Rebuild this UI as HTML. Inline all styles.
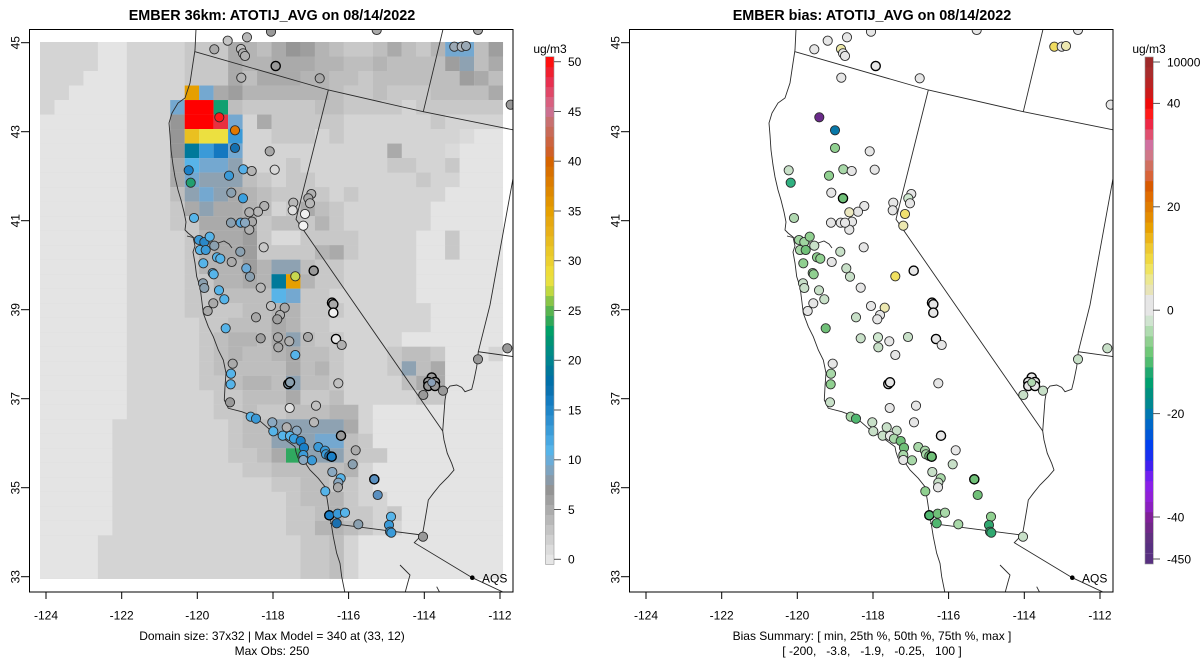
<!DOCTYPE html>
<html><head><meta charset="utf-8">
<style>
html,body{margin:0;padding:0;background:#fff;}
svg{display:block;}
text{font-family:"Liberation Sans",Arial,sans-serif;fill:#000;}
.a{fill:#e4e4e4}.b{fill:#dadada}.c{fill:#d4d4d4}.d{fill:#c8c8c8}.e{fill:#bebebe}.f{fill:#b4b4b4}.g{fill:#aaaaaa}.h{fill:#9e9e9e}.i{fill:#969696}
.p{fill:#8ea2b2}.q{fill:#74a8d0}.r{fill:#58b4e8}.s{fill:#3a9ad8}.t{fill:#1478c0}.u{fill:#00799a}.v{fill:#10a070}.w{fill:#30a860}.y{fill:#ece040}.Y{fill:#eac020}.o{fill:#e69f00}.R{fill:#ff0000}.P{fill:#e83040}
.st circle{stroke:#2a2a2a;stroke-width:0.9}
.st circle.k{stroke:#000;stroke-width:1.35}
</style></head>
<body>
<svg width="1200" height="672" viewBox="0 0 1200 672" xmlns="http://www.w3.org/2000/svg" xmlns:xlink="http://www.w3.org/1999/xlink">
<defs>
<clipPath id="cl"><rect x="29.5" y="29.5" width="483.5" height="562.5"/></clipPath>
<g id="map" fill="none" stroke="#2a2a2a" stroke-width="0.9">
<polyline points="196,29 195,50 193,63 190,83 185,98 178,103 172,113 169,123 170,135 171,150 173,165 175,177 178,190 181,200 184,212 186,222 185,230 188,233 193,237 195,246 193,252 195,263 196.7,276.7 200,286.7 201.7,300 203.3,313.3 208.3,326.7 213.3,336.7 218.3,350 223.3,360 226,373 225,386.7 224.3,400 228.3,408.3 241.7,411.7 255,416.7 268.3,428.3 283.3,438.3 295,446.7 296,452 298,458 303.3,460 310,470 318.3,478.3 325,486.7 327.3,500 329.3,513.3 331.7,526.7 333.3,536.7 336.7,553.3 340,563.3 341.7,576.7 345,593"/>
<polyline points="187,236 195,238 202,240 210,243 218,243 224,241 229,244 232,248"/>
<polyline points="195,51.7 328.3,90 423.3,111.7 514,130"/>
<polyline points="328.3,90 296,219.3 442.7,431"/>
<polyline points="423.3,111.7 443.3,28"/>
<polyline points="514,173 490,305 478.3,351.7 514,356.7"/>
<polyline points="478.3,351.7 476.7,366.7 474,380 471.7,389.3 465,391.7 461.7,387.3 456.7,385 450,386 446.7,390 445,400 444,413.3 442.7,431 444,440 447.3,453.3 451.7,463.3 454,470 448.3,476.7 440,485 433.3,493.3 428.3,500 426.7,510 425,520 423.3,530 421.7,535"/>
<polyline points="330,523.3 421.7,535"/>
<polyline points="421.7,535 414.3,542.7 472.3,577.7 505,593"/>
<polyline points="400,565 405,570 410,575 408,582 405,593"/>
<polyline points="436.7,586.7 440,593"/>
</g>
<g id="aqs"><circle cx="472.3" cy="577.7" r="2.3" fill="#000"/><text x="482" y="582.5" font-size="12">AQS</text></g>
</defs>

<!-- ===== LEFT PANEL ===== -->
<text x="272" y="20" font-size="14.4" font-weight="bold" text-anchor="middle">EMBER 36km: ATOTIJ_AVG on 08/14/2022</text>
<rect x="40" y="42" width="463" height="537" class="c"/>
<g transform="translate(40,42) scale(14.47,14.51)">
<rect x="4" y="0" width="2" height="1" class="a"/><rect x="10" y="0" width="3" height="1" class="d"/><rect x="13" y="0" width="1" height="1" class="g"/><rect x="14" y="0" width="1" height="1" class="f"/><rect x="15" y="0" width="1" height="1" class="e"/><rect x="16" y="0" width="1" height="1" class="g"/><rect x="17" y="0" width="1" height="1" class="i"/><rect x="18" y="0" width="1" height="1" class="h"/><rect x="19" y="0" width="1" height="1" class="f"/><rect x="20" y="0" width="1" height="1" class="e"/><rect x="21" y="0" width="2" height="1" class="d"/><rect x="23" y="0" width="1" height="1" class="e"/><rect x="24" y="0" width="1" height="1" class="g"/><rect x="25" y="0" width="1" height="1" class="e"/><rect x="26" y="0" width="1" height="1" class="d"/><rect x="27" y="0" width="1" height="1" class="f"/><rect x="28" y="0" width="2" height="1" class="q"/><rect x="30" y="0" width="1" height="1" class="e"/><rect x="31" y="0" width="1" height="1" class="h"/>
<rect x="4" y="1" width="2" height="1" class="a"/><rect x="10" y="1" width="3" height="1" class="d"/><rect x="13" y="1" width="1" height="1" class="g"/><rect x="14" y="1" width="2" height="1" class="f"/><rect x="16" y="1" width="3" height="1" class="g"/><rect x="19" y="1" width="2" height="1" class="f"/><rect x="21" y="1" width="2" height="1" class="e"/><rect x="23" y="1" width="1" height="1" class="f"/><rect x="24" y="1" width="4" height="1" class="e"/><rect x="28" y="1" width="1" height="1" class="h"/><rect x="29" y="1" width="1" height="1" class="p"/><rect x="30" y="1" width="1" height="1" class="e"/><rect x="31" y="1" width="1" height="1" class="g"/>
<rect x="3" y="2" width="3" height="1" class="a"/><rect x="10" y="2" width="3" height="1" class="d"/><rect x="13" y="2" width="1" height="1" class="g"/><rect x="14" y="2" width="1" height="1" class="e"/><rect x="15" y="2" width="3" height="1" class="g"/><rect x="18" y="2" width="2" height="1" class="f"/><rect x="20" y="2" width="2" height="1" class="e"/><rect x="22" y="2" width="1" height="1" class="d"/><rect x="23" y="2" width="6" height="1" class="e"/><rect x="29" y="2" width="1" height="1" class="h"/><rect x="30" y="2" width="1" height="1" class="g"/><rect x="31" y="2" width="1" height="1" class="e"/>
<rect x="2" y="3" width="4" height="1" class="a"/><rect x="10" y="3" width="1" height="1" class="o"/><rect x="11" y="3" width="1" height="1" class="q"/><rect x="12" y="3" width="1" height="1" class="g"/><rect x="13" y="3" width="1" height="1" class="h"/><rect x="14" y="3" width="6" height="1" class="f"/><rect x="20" y="3" width="1" height="1" class="e"/><rect x="21" y="3" width="2" height="1" class="d"/><rect x="23" y="3" width="1" height="1" class="e"/><rect x="24" y="3" width="3" height="1" class="d"/><rect x="27" y="3" width="4" height="1" class="e"/><rect x="31" y="3" width="1" height="1" class="g"/>
<rect x="1" y="4" width="5" height="1" class="a"/><rect x="9" y="4" width="1" height="1" class="q"/><rect x="10" y="4" width="2" height="1" class="R"/><rect x="12" y="4" width="1" height="1" class="v"/><rect x="13" y="4" width="1" height="1" class="e"/><rect x="14" y="4" width="5" height="1" class="d"/><rect x="19" y="4" width="2" height="1" class="e"/><rect x="21" y="4" width="4" height="1" class="d"/><rect x="26" y="4" width="6" height="1" class="d"/>
<rect x="0" y="5" width="6" height="1" class="a"/><rect x="9" y="5" width="1" height="1" class="i"/><rect x="10" y="5" width="2" height="1" class="R"/><rect x="12" y="5" width="1" height="1" class="P"/><rect x="13" y="5" width="1" height="1" class="q"/><rect x="15" y="5" width="1" height="1" class="g"/><rect x="16" y="5" width="5" height="1" class="d"/><rect x="27" y="5" width="1" height="1" class="d"/>
<rect x="0" y="6" width="6" height="1" class="a"/><rect x="9" y="6" width="1" height="1" class="i"/><rect x="10" y="6" width="1" height="1" class="Y"/><rect x="11" y="6" width="2" height="1" class="y"/><rect x="13" y="6" width="1" height="1" class="s"/><rect x="16" y="6" width="3" height="1" class="d"/><rect x="20" y="6" width="1" height="1" class="d"/><rect x="29" y="6" width="1" height="1" class="b"/><rect x="30" y="6" width="2" height="1" class="a"/>
<rect x="0" y="7" width="6" height="1" class="a"/><rect x="9" y="7" width="1" height="1" class="i"/><rect x="10" y="7" width="1" height="1" class="u"/><rect x="11" y="7" width="1" height="1" class="s"/><rect x="12" y="7" width="1" height="1" class="t"/><rect x="13" y="7" width="1" height="1" class="q"/><rect x="24" y="7" width="1" height="1" class="g"/><rect x="28" y="7" width="1" height="1" class="b"/><rect x="29" y="7" width="3" height="1" class="a"/>
<rect x="0" y="8" width="6" height="1" class="a"/><rect x="9" y="8" width="1" height="1" class="g"/><rect x="10" y="8" width="1" height="1" class="r"/><rect x="11" y="8" width="2" height="1" class="q"/><rect x="13" y="8" width="1" height="1" class="p"/><rect x="17" y="8" width="1" height="1" class="d"/><rect x="24" y="8" width="2" height="1" class="d"/><rect x="28" y="8" width="1" height="1" class="d"/><rect x="29" y="8" width="3" height="1" class="a"/>
<rect x="0" y="9" width="6" height="1" class="a"/><rect x="9" y="9" width="1" height="1" class="g"/><rect x="10" y="9" width="1" height="1" class="q"/><rect x="11" y="9" width="3" height="1" class="p"/><rect x="14" y="9" width="1" height="1" class="e"/><rect x="15" y="9" width="1" height="1" class="d"/><rect x="17" y="9" width="2" height="1" class="d"/><rect x="26" y="9" width="1" height="1" class="d"/><rect x="29" y="9" width="3" height="1" class="a"/>
<rect x="0" y="10" width="6" height="1" class="a"/><rect x="9" y="10" width="1" height="1" class="e"/><rect x="10" y="10" width="1" height="1" class="p"/><rect x="11" y="10" width="1" height="1" class="q"/><rect x="12" y="10" width="1" height="1" class="p"/><rect x="13" y="10" width="1" height="1" class="g"/><rect x="14" y="10" width="1" height="1" class="f"/><rect x="15" y="10" width="1" height="1" class="e"/><rect x="16" y="10" width="4" height="1" class="d"/><rect x="21" y="10" width="1" height="1" class="d"/><rect x="28" y="10" width="4" height="1" class="a"/>
<rect x="0" y="11" width="6" height="1" class="a"/><rect x="9" y="11" width="1" height="1" class="d"/><rect x="10" y="11" width="1" height="1" class="g"/><rect x="11" y="11" width="1" height="1" class="p"/><rect x="12" y="11" width="2" height="1" class="g"/><rect x="14" y="11" width="1" height="1" class="f"/><rect x="15" y="11" width="1" height="1" class="e"/><rect x="17" y="11" width="1" height="1" class="d"/><rect x="18" y="11" width="1" height="1" class="g"/><rect x="19" y="11" width="1" height="1" class="e"/><rect x="20" y="11" width="1" height="1" class="d"/><rect x="27" y="11" width="5" height="1" class="a"/>
<rect x="0" y="12" width="6" height="1" class="a"/><rect x="9" y="12" width="2" height="1" class="d"/><rect x="11" y="12" width="4" height="1" class="g"/><rect x="15" y="12" width="1" height="1" class="d"/><rect x="16" y="12" width="2" height="1" class="e"/><rect x="18" y="12" width="1" height="1" class="d"/><rect x="19" y="12" width="1" height="1" class="f"/><rect x="20" y="12" width="1" height="1" class="d"/><rect x="27" y="12" width="5" height="1" class="a"/>
<rect x="0" y="13" width="6" height="1" class="a"/><rect x="10" y="13" width="1" height="1" class="d"/><rect x="11" y="13" width="1" height="1" class="f"/><rect x="12" y="13" width="2" height="1" class="g"/><rect x="14" y="13" width="1" height="1" class="h"/><rect x="15" y="13" width="1" height="1" class="d"/><rect x="16" y="13" width="2" height="1" class="b"/><rect x="18" y="13" width="4" height="1" class="d"/><rect x="26" y="13" width="2" height="1" class="a"/><rect x="28" y="13" width="1" height="1" class="d"/><rect x="29" y="13" width="3" height="1" class="a"/>
<rect x="0" y="14" width="6" height="1" class="a"/><rect x="10" y="14" width="1" height="1" class="d"/><rect x="11" y="14" width="1" height="1" class="f"/><rect x="12" y="14" width="2" height="1" class="g"/><rect x="14" y="14" width="1" height="1" class="h"/><rect x="15" y="14" width="4" height="1" class="d"/><rect x="19" y="14" width="1" height="1" class="f"/><rect x="20" y="14" width="1" height="1" class="g"/><rect x="21" y="14" width="1" height="1" class="d"/><rect x="26" y="14" width="2" height="1" class="a"/><rect x="28" y="14" width="1" height="1" class="d"/><rect x="29" y="14" width="3" height="1" class="a"/>
<rect x="0" y="15" width="6" height="1" class="a"/><rect x="10" y="15" width="1" height="1" class="d"/><rect x="11" y="15" width="3" height="1" class="f"/><rect x="14" y="15" width="1" height="1" class="h"/><rect x="15" y="15" width="1" height="1" class="f"/><rect x="16" y="15" width="2" height="1" class="p"/><rect x="18" y="15" width="1" height="1" class="e"/><rect x="19" y="15" width="2" height="1" class="d"/><rect x="26" y="15" width="6" height="1" class="a"/>
<rect x="0" y="16" width="6" height="1" class="a"/><rect x="10" y="16" width="2" height="1" class="d"/><rect x="12" y="16" width="2" height="1" class="f"/><rect x="14" y="16" width="1" height="1" class="g"/><rect x="15" y="16" width="1" height="1" class="f"/><rect x="16" y="16" width="1" height="1" class="u"/><rect x="17" y="16" width="1" height="1" class="o"/><rect x="18" y="16" width="1" height="1" class="f"/><rect x="19" y="16" width="2" height="1" class="d"/><rect x="26" y="16" width="6" height="1" class="a"/>
<rect x="0" y="17" width="6" height="1" class="a"/><rect x="10" y="17" width="2" height="1" class="d"/><rect x="12" y="17" width="4" height="1" class="e"/><rect x="16" y="17" width="1" height="1" class="r"/><rect x="17" y="17" width="1" height="1" class="q"/><rect x="18" y="17" width="2" height="1" class="d"/><rect x="26" y="17" width="6" height="1" class="a"/>
<rect x="0" y="18" width="6" height="1" class="a"/><rect x="10" y="18" width="4" height="1" class="d"/><rect x="14" y="18" width="2" height="1" class="e"/><rect x="16" y="18" width="2" height="1" class="f"/><rect x="18" y="18" width="3" height="1" class="d"/><rect x="27" y="18" width="5" height="1" class="a"/>
<rect x="0" y="19" width="6" height="1" class="a"/><rect x="11" y="19" width="2" height="1" class="d"/><rect x="13" y="19" width="3" height="1" class="e"/><rect x="16" y="19" width="1" height="1" class="g"/><rect x="17" y="19" width="1" height="1" class="f"/><rect x="18" y="19" width="2" height="1" class="d"/><rect x="27" y="19" width="5" height="1" class="a"/>
<rect x="0" y="20" width="6" height="1" class="a"/><rect x="11" y="20" width="1" height="1" class="d"/><rect x="12" y="20" width="1" height="1" class="e"/><rect x="13" y="20" width="2" height="1" class="f"/><rect x="15" y="20" width="1" height="1" class="e"/><rect x="16" y="20" width="1" height="1" class="g"/><rect x="17" y="20" width="1" height="1" class="p"/><rect x="18" y="20" width="1" height="1" class="e"/><rect x="19" y="20" width="2" height="1" class="d"/><rect x="25" y="20" width="7" height="1" class="a"/>
<rect x="0" y="21" width="6" height="1" class="a"/><rect x="11" y="21" width="1" height="1" class="d"/><rect x="12" y="21" width="1" height="1" class="e"/><rect x="13" y="21" width="1" height="1" class="f"/><rect x="14" y="21" width="2" height="1" class="e"/><rect x="16" y="21" width="1" height="1" class="f"/><rect x="17" y="21" width="1" height="1" class="g"/><rect x="18" y="21" width="2" height="1" class="e"/><rect x="20" y="21" width="1" height="1" class="d"/><rect x="24" y="21" width="1" height="1" class="d"/><rect x="25" y="21" width="2" height="1" class="e"/><rect x="27" y="21" width="1" height="1" class="d"/><rect x="28" y="21" width="3" height="1" class="a"/>
<rect x="0" y="22" width="6" height="1" class="a"/><rect x="11" y="22" width="1" height="1" class="d"/><rect x="12" y="22" width="5" height="1" class="e"/><rect x="17" y="22" width="1" height="1" class="g"/><rect x="18" y="22" width="1" height="1" class="e"/><rect x="19" y="22" width="1" height="1" class="f"/><rect x="20" y="22" width="1" height="1" class="d"/><rect x="24" y="22" width="1" height="1" class="d"/><rect x="25" y="22" width="1" height="1" class="p"/><rect x="26" y="22" width="1" height="1" class="e"/><rect x="27" y="22" width="1" height="1" class="g"/><rect x="28" y="22" width="4" height="1" class="a"/>
<rect x="0" y="23" width="6" height="1" class="a"/><rect x="11" y="23" width="2" height="1" class="d"/><rect x="13" y="23" width="1" height="1" class="e"/><rect x="14" y="23" width="2" height="1" class="f"/><rect x="16" y="23" width="1" height="1" class="e"/><rect x="17" y="23" width="1" height="1" class="p"/><rect x="18" y="23" width="2" height="1" class="e"/><rect x="20" y="23" width="1" height="1" class="d"/><rect x="25" y="23" width="1" height="1" class="e"/><rect x="26" y="23" width="2" height="1" class="g"/><rect x="28" y="23" width="4" height="1" class="a"/>
<rect x="0" y="24" width="6" height="1" class="a"/><rect x="12" y="24" width="2" height="1" class="d"/><rect x="14" y="24" width="3" height="1" class="e"/><rect x="17" y="24" width="1" height="1" class="g"/><rect x="18" y="24" width="2" height="1" class="d"/><rect x="20" y="24" width="1" height="1" class="e"/><rect x="26" y="24" width="2" height="1" class="d"/><rect x="28" y="24" width="4" height="1" class="a"/>
<rect x="0" y="25" width="6" height="1" class="a"/><rect x="12" y="25" width="2" height="1" class="d"/><rect x="14" y="25" width="1" height="1" class="e"/><rect x="15" y="25" width="2" height="1" class="d"/><rect x="17" y="25" width="3" height="1" class="e"/><rect x="20" y="25" width="2" height="1" class="f"/><rect x="23" y="25" width="9" height="1" class="a"/>
<rect x="0" y="26" width="5" height="1" class="a"/><rect x="13" y="26" width="1" height="1" class="d"/><rect x="14" y="26" width="2" height="1" class="e"/><rect x="16" y="26" width="5" height="1" class="p"/><rect x="21" y="26" width="1" height="1" class="g"/><rect x="23" y="26" width="9" height="1" class="a"/>
<rect x="0" y="27" width="5" height="1" class="a"/><rect x="13" y="27" width="1" height="1" class="d"/><rect x="14" y="27" width="2" height="1" class="e"/><rect x="16" y="27" width="3" height="1" class="p"/><rect x="19" y="27" width="2" height="1" class="q"/><rect x="21" y="27" width="1" height="1" class="e"/><rect x="22" y="27" width="1" height="1" class="d"/><rect x="23" y="27" width="9" height="1" class="a"/>
<rect x="0" y="28" width="5" height="1" class="a"/><rect x="13" y="28" width="2" height="1" class="d"/><rect x="15" y="28" width="1" height="1" class="e"/><rect x="16" y="28" width="1" height="1" class="g"/><rect x="17" y="28" width="1" height="1" class="w"/><rect x="18" y="28" width="3" height="1" class="p"/><rect x="21" y="28" width="1" height="1" class="e"/><rect x="22" y="28" width="2" height="1" class="d"/><rect x="24" y="28" width="8" height="1" class="a"/>
<rect x="0" y="29" width="5" height="1" class="a"/><rect x="14" y="29" width="2" height="1" class="d"/><rect x="16" y="29" width="5" height="1" class="e"/><rect x="21" y="29" width="1" height="1" class="f"/><rect x="23" y="29" width="9" height="1" class="a"/>
<rect x="0" y="30" width="5" height="1" class="a"/><rect x="16" y="30" width="2" height="1" class="d"/><rect x="18" y="30" width="2" height="1" class="e"/><rect x="20" y="30" width="2" height="1" class="d"/><rect x="23" y="30" width="9" height="1" class="a"/>
<rect x="0" y="31" width="5" height="1" class="a"/><rect x="17" y="31" width="1" height="1" class="d"/><rect x="18" y="31" width="2" height="1" class="e"/><rect x="20" y="31" width="1" height="1" class="f"/><rect x="21" y="31" width="1" height="1" class="d"/><rect x="24" y="31" width="8" height="1" class="a"/>
<rect x="0" y="32" width="5" height="1" class="a"/><rect x="17" y="32" width="2" height="1" class="d"/><rect x="19" y="32" width="1" height="1" class="e"/><rect x="20" y="32" width="1" height="1" class="f"/><rect x="21" y="32" width="2" height="1" class="d"/><rect x="24" y="32" width="1" height="1" class="d"/><rect x="25" y="32" width="7" height="1" class="a"/>
<rect x="0" y="33" width="5" height="1" class="a"/><rect x="17" y="33" width="2" height="1" class="d"/><rect x="19" y="33" width="2" height="1" class="f"/><rect x="21" y="33" width="1" height="1" class="e"/><rect x="22" y="33" width="1" height="1" class="d"/><rect x="25" y="33" width="7" height="1" class="a"/>
<rect x="0" y="34" width="4" height="3" class="a"/><rect x="18" y="34" width="2" height="3" class="d"/><rect x="20" y="34" width="1" height="3" class="e"/><rect x="22" y="34" width="10" height="3" class="a"/>
</g>

<use xlink:href="#map" clip-path="url(#cl)"/>

<g class="st" clip-path="url(#cl)">
<circle cx="227.7" cy="40.7" r="4.6" fill="#c4c4c4"/>
<circle cx="247" cy="37.3" r="4.6" fill="#b8b8b8"/>
<circle cx="271" cy="31.7" r="4.6" fill="#999"/>
<circle cx="376.7" cy="30" r="4.6" fill="#aaa"/>
<circle cx="478" cy="30" r="4.6" fill="#aaa"/>
<circle cx="214.3" cy="49.3" r="4.6" fill="#aaa"/>
<circle cx="241" cy="49" r="4.6" fill="#c0c0c0"/>
<circle cx="243" cy="53.3" r="4.6" fill="#b0b0b0"/>
<circle cx="245" cy="56" r="4.6" fill="#b0b0b0"/>
<circle class="k" cx="275.7" cy="66" r="4.6" fill="#9a9a9a"/>
<circle cx="241.3" cy="77.7" r="4.6" fill="#b4b4b4"/>
<circle cx="319.7" cy="78.3" r="4.6" fill="#a8a8a8"/>
<circle cx="454.3" cy="46.7" r="4.6" fill="#9aa8b4"/>
<circle cx="461.7" cy="46.7" r="4.6" fill="#b0b8c0"/>
<circle cx="466" cy="46" r="4.6" fill="#9aa8b4"/>
<circle cx="510.7" cy="104.7" r="4.6" fill="#999"/>
<circle cx="219.3" cy="117.3" r="4.6" fill="#ff1a1a"/>
<circle cx="235" cy="130.3" r="4.6" fill="#e07800"/>
<circle cx="235" cy="148" r="4.6" fill="#1470b0"/>
<circle cx="269.7" cy="151.3" r="4.6" fill="#a8a8a8"/>
<circle cx="188.7" cy="170.3" r="4.6" fill="#1a80c8"/>
<circle cx="243.3" cy="169.3" r="4.6" fill="#56b0e8"/>
<circle cx="251.7" cy="171" r="4.6" fill="#b4b4b4"/>
<circle cx="274.7" cy="169.7" r="4.6" fill="#d8d8d8"/>
<circle cx="190.7" cy="182.7" r="4.6" fill="#20a070"/>
<circle cx="229" cy="175.7" r="4.6" fill="#3a9ad8"/>
<circle cx="231.3" cy="192.7" r="4.6" fill="#8aa0b0"/>
<circle cx="243" cy="198.3" r="4.6" fill="#3aa0e0"/>
<circle cx="311.3" cy="194" r="4.6" fill="#b0b0b0"/>
<circle cx="308.3" cy="198.3" r="4.6" fill="#a8a8a8"/>
<circle cx="310" cy="203.3" r="4.6" fill="#b8b8b8"/>
<circle cx="293.3" cy="202.7" r="4.6" fill="#b8b8b8"/>
<circle cx="292.7" cy="210.3" r="4.6" fill="#e0e0e0"/>
<circle cx="305" cy="214" r="4.6" fill="#f0f0f0"/>
<circle cx="303.3" cy="225.7" r="4.6" fill="#f4f4f4"/>
<circle cx="264.3" cy="206" r="4.6" fill="#b0b0b0"/>
<circle cx="258" cy="211.7" r="4.6" fill="#b8b8b8"/>
<circle cx="249.3" cy="212.3" r="4.6" fill="#b0b0b0"/>
<circle cx="252" cy="221.7" r="4.6" fill="#a8a8a8"/>
<circle cx="249.3" cy="229.7" r="4.6" fill="#b0b0b0"/>
<circle cx="240.7" cy="222.7" r="4.6" fill="#56a8e0"/>
<circle cx="245" cy="222.7" r="4.6" fill="#8aa8c0"/>
<circle cx="194" cy="218" r="4.6" fill="#56b4e9"/>
<circle cx="231" cy="222.7" r="4.6" fill="#8aa0b0"/>
<circle cx="199" cy="240" r="4.6" fill="#3a9ad8"/>
<circle cx="204.3" cy="242" r="4.6" fill="#2a88c8"/>
<circle cx="209.7" cy="236.7" r="4.6" fill="#56b4e9"/>
<circle cx="200" cy="250" r="4.6" fill="#56b4e9"/>
<circle cx="205.7" cy="250" r="4.6" fill="#3a9ad8"/>
<circle cx="214.3" cy="245.7" r="4.6" fill="#8aa0b0"/>
<circle cx="217" cy="257.3" r="4.6" fill="#56b4e9"/>
<circle cx="220.3" cy="258.7" r="4.6" fill="#56b4e9"/>
<circle cx="203.3" cy="263.3" r="4.6" fill="#56b4e9"/>
<circle cx="231.7" cy="262" r="4.6" fill="#aaa"/>
<circle cx="240.3" cy="251.7" r="4.6" fill="#8aa0b0"/>
<circle cx="263.7" cy="247.3" r="4.6" fill="#c8c8c8"/>
<circle cx="246.3" cy="268.3" r="4.6" fill="#6aaad8"/>
<circle cx="250" cy="276.7" r="4.6" fill="#8aa0b0"/>
<circle cx="212.7" cy="273" r="4.6" fill="#56b4e9"/>
<circle cx="213.7" cy="274.3" r="4.6" fill="#56b4e9"/>
<circle cx="203" cy="283.3" r="4.6" fill="#8aa0b0"/>
<circle cx="204.3" cy="288" r="4.6" fill="#8aa0b0"/>
<circle cx="219" cy="290.3" r="4.6" fill="#56b4e9"/>
<circle cx="224.3" cy="299.3" r="4.6" fill="#56b4e9"/>
<circle cx="213.3" cy="303.3" r="4.6" fill="#aaa"/>
<circle cx="260.7" cy="287.7" r="4.6" fill="#b8b8b8"/>
<circle cx="295.3" cy="276.3" r="4.6" fill="#c8d850"/>
<circle class="k" cx="313.7" cy="270.7" r="4.6" fill="#999"/>
<circle cx="271" cy="306" r="4.6" fill="#c0c0c0"/>
<circle cx="284.7" cy="307.7" r="4.6" fill="#a8a8a8"/>
<circle class="k" cx="332" cy="302.7" r="4.6" fill="#aaa"/>
<circle class="k" cx="333.3" cy="304.3" r="4.6" fill="#aaa"/>
<circle cx="207.7" cy="311" r="4.6" fill="#aaa"/>
<circle cx="280" cy="315" r="4.6" fill="#b0b0b0"/>
<circle cx="277.3" cy="319.3" r="4.6" fill="#a0a0a0"/>
<circle class="k" cx="333.3" cy="312.7" r="4.6" fill="#f0f0f0"/>
<circle cx="256" cy="317.3" r="4.6" fill="#a8a8a8"/>
<circle cx="225.7" cy="328.3" r="4.6" fill="#56b4e9"/>
<circle cx="260.7" cy="338.3" r="4.6" fill="#a0a0a0"/>
<circle cx="278" cy="337.3" r="4.6" fill="#a8a8a8"/>
<circle cx="278.3" cy="347.3" r="4.6" fill="#a8a8a8"/>
<circle cx="289.3" cy="341.3" r="4.6" fill="#b0b0b0"/>
<circle cx="308" cy="337" r="4.6" fill="#a8a8a8"/>
<circle class="k" cx="336" cy="339" r="4.6" fill="#e8e8e8"/>
<circle cx="341.7" cy="345" r="4.6" fill="#b0b0b0"/>
<circle cx="295.3" cy="355" r="4.6" fill="#56b4e9"/>
<circle cx="232.7" cy="363.7" r="4.6" fill="#aaa"/>
<circle cx="231" cy="373.7" r="4.6" fill="#56b4e9"/>
<circle cx="230.7" cy="384.3" r="4.6" fill="#56b4e9"/>
<circle class="k" cx="288.3" cy="384" r="4.6" fill="#8aa0b0"/>
<circle class="k" cx="290" cy="382.3" r="4.6" fill="#8aa0b0"/>
<circle cx="338.3" cy="383.3" r="4.6" fill="#c0c0c0"/>
<circle cx="230" cy="402.3" r="4.6" fill="#999"/>
<circle cx="289.7" cy="408" r="4.6" fill="#e0e0e0"/>
<circle cx="316" cy="405.7" r="4.6" fill="#c0c0c0"/>
<circle cx="250.7" cy="416.7" r="4.6" fill="#56b4e9"/>
<circle cx="256" cy="418.7" r="4.6" fill="#3a9ad8"/>
<circle cx="272.3" cy="422.3" r="4.6" fill="#8aa8c0"/>
<circle cx="314" cy="422.3" r="4.6" fill="#b8b8b8"/>
<circle cx="273.3" cy="431.3" r="4.6" fill="#56b4e9"/>
<circle cx="286.7" cy="427.3" r="4.6" fill="#b0b0b0"/>
<circle cx="296.7" cy="430.7" r="4.6" fill="#8aa8c0"/>
<circle cx="282.7" cy="435.7" r="4.6" fill="#56b4e9"/>
<circle cx="290" cy="436" r="4.6" fill="#56b4e9"/>
<circle cx="294" cy="438.7" r="4.6" fill="#3aa0e0"/>
<circle cx="300.7" cy="441" r="4.6" fill="#1a80c8"/>
<circle cx="304" cy="447.7" r="4.6" fill="#1a80c8"/>
<circle class="k" cx="341" cy="435.7" r="4.6" fill="#999"/>
<circle cx="318.3" cy="447" r="4.6" fill="#3a9ad8"/>
<circle cx="325" cy="450.7" r="4.6" fill="#3a9ad8"/>
<circle cx="326" cy="454.3" r="4.6" fill="#3a9ad8"/>
<circle cx="329.3" cy="456" r="4.6" fill="#1a70b0"/>
<circle class="k" cx="331.7" cy="456.7" r="4.6" fill="#1a80c8"/>
<circle cx="303.3" cy="455" r="4.6" fill="#3a9ad8"/>
<circle cx="303.3" cy="460" r="4.6" fill="#8aa8c0"/>
<circle cx="312" cy="460.3" r="4.6" fill="#3a9ad8"/>
<circle cx="355.7" cy="450.3" r="4.6" fill="#aaa"/>
<circle cx="352.7" cy="464.3" r="4.6" fill="#8aa0b0"/>
<circle cx="332.3" cy="472" r="4.6" fill="#8aa8c0"/>
<circle cx="340.7" cy="478.3" r="4.6" fill="#56b4e9"/>
<circle cx="338.3" cy="482.7" r="4.6" fill="#8aa8c0"/>
<circle cx="338" cy="487.3" r="4.6" fill="#aaa"/>
<circle class="k" cx="374.3" cy="479.3" r="4.6" fill="#5a90c0"/>
<circle cx="377.7" cy="495" r="4.6" fill="#5a90c0"/>
<circle cx="325.3" cy="491.3" r="4.6" fill="#56b4e9"/>
<circle class="k" cx="329.3" cy="515.3" r="4.6" fill="#1a80c8"/>
<circle cx="337.7" cy="513.7" r="4.6" fill="#3a9ad8"/>
<circle cx="345" cy="512.7" r="4.6" fill="#56b4e9"/>
<circle cx="336.7" cy="523.3" r="4.6" fill="#1a70b0"/>
<circle cx="358.3" cy="524.3" r="4.6" fill="#8aa0b0"/>
<circle cx="391" cy="516.7" r="4.6" fill="#56b4e9"/>
<circle cx="389" cy="525" r="4.6" fill="#3a9ad8"/>
<circle cx="390" cy="531.7" r="4.6" fill="#3a9ad8"/>
<circle cx="391.3" cy="532.7" r="4.6" fill="#3a9ad8"/>
<circle cx="423" cy="536.7" r="4.6" fill="#999"/>
<circle cx="507.3" cy="348.3" r="4.6" fill="#999"/>
<circle cx="478" cy="359.3" r="4.6" fill="#999"/>
<circle class="k" cx="431.7" cy="377.5" r="4.6" fill="#999"/>
<circle class="k" cx="428.3" cy="382" r="4.6" fill="#999"/>
<circle class="k" cx="435" cy="382" r="4.6" fill="#999"/>
<circle class="k" cx="428.3" cy="386" r="4.6" fill="#999"/>
<circle class="k" cx="435" cy="386" r="4.6" fill="#999"/>
<circle cx="431.7" cy="382.5" r="4" fill="#8aa0b8"/>
<circle cx="423.3" cy="395" r="4.6" fill="#999"/>
<circle cx="443" cy="390.7" r="4.6" fill="#999"/>
</g>
<use xlink:href="#aqs"/>

<rect x="29.5" y="29.5" width="483.5" height="562.5" fill="none" stroke="#000" stroke-width="1"/>
<g stroke="#000" stroke-width="1">
<line x1="46" y1="592" x2="46" y2="599"/><line x1="121.7" y1="592" x2="121.7" y2="599"/><line x1="197.3" y1="592" x2="197.3" y2="599"/><line x1="273" y1="592" x2="273" y2="599"/><line x1="348.6" y1="592" x2="348.6" y2="599"/><line x1="424.3" y1="592" x2="424.3" y2="599"/><line x1="500" y1="592" x2="500" y2="599"/>
<line x1="21" y1="42.7" x2="29" y2="42.7"/><line x1="21" y1="131.7" x2="29" y2="131.7"/><line x1="21" y1="220.7" x2="29" y2="220.7"/><line x1="21" y1="309.7" x2="29" y2="309.7"/><line x1="21" y1="398.7" x2="29" y2="398.7"/><line x1="21" y1="487.7" x2="29" y2="487.7"/><line x1="21" y1="576.7" x2="29" y2="576.7"/>
</g>
<g font-size="12" text-anchor="middle">
<text x="46" y="619.5">-124</text><text x="121.7" y="619.5">-122</text><text x="197.3" y="619.5">-120</text><text x="273" y="619.5">-118</text><text x="348.6" y="619.5">-116</text><text x="424.3" y="619.5">-114</text><text x="500" y="619.5">-112</text>
<text transform="translate(19.5,42.7) rotate(-90)">45</text><text transform="translate(19.5,131.7) rotate(-90)">43</text><text transform="translate(19.5,220.7) rotate(-90)">41</text><text transform="translate(19.5,309.7) rotate(-90)">39</text><text transform="translate(19.5,398.7) rotate(-90)">37</text><text transform="translate(19.5,487.7) rotate(-90)">35</text><text transform="translate(19.5,576.7) rotate(-90)">33</text>
<text x="272" y="640">Domain size: 37x32 | Max Model = 340 at (33, 12)</text>
<text x="272" y="655">Max Obs: 250</text>
<text x="550" y="53">ug/m3</text>
</g>

<g transform="translate(545.5,56.7) scale(1,9.952)">
<rect x="0" y="50" width="8.5" height="1.05" fill="#e6e6e6"/><rect x="0" y="49" width="8.5" height="1.05" fill="#dcdcdc"/><rect x="0" y="48" width="8.5" height="1.05" fill="#d0d0d0"/><rect x="0" y="47" width="8.5" height="1.05" fill="#c4c4c4"/><rect x="0" y="46" width="8.5" height="1.05" fill="#b8b8b8"/><rect x="0" y="45" width="8.5" height="1.05" fill="#acacac"/><rect x="0" y="44" width="8.5" height="1.05" fill="#a0a0a0"/><rect x="0" y="43" width="8.5" height="1.05" fill="#949494"/><rect x="0" y="42" width="8.5" height="1.05" fill="#8a9aa8"/><rect x="0" y="41" width="8.5" height="1.05" fill="#7ea4c0"/>
<rect x="0" y="40" width="8.5" height="1.05" fill="#6aacd8"/><rect x="0" y="39" width="8.5" height="1.05" fill="#56b4e9"/><rect x="0" y="38" width="8.5" height="1.05" fill="#48a8e2"/><rect x="0" y="37" width="8.5" height="1.05" fill="#3a9cd8"/><rect x="0" y="36" width="8.5" height="1.05" fill="#2e90d0"/><rect x="0" y="35" width="8.5" height="1.05" fill="#2086c8"/><rect x="0" y="34" width="8.5" height="1.05" fill="#147cc0"/><rect x="0" y="33" width="8.5" height="1.05" fill="#0a72b0"/><rect x="0" y="32" width="8.5" height="1.05" fill="#0070a8"/><rect x="0" y="31" width="8.5" height="1.05" fill="#00789a"/>
<rect x="0" y="30" width="8.5" height="1.05" fill="#008490"/><rect x="0" y="29" width="8.5" height="1.05" fill="#008c84"/><rect x="0" y="28" width="8.5" height="1.05" fill="#009474"/><rect x="0" y="27" width="8.5" height="1.05" fill="#00a068"/><rect x="0" y="26" width="8.5" height="1.05" fill="#30a858"/><rect x="0" y="25" width="8.5" height="1.05" fill="#58b450"/><rect x="0" y="24" width="8.5" height="1.05" fill="#88c448"/><rect x="0" y="23" width="8.5" height="1.05" fill="#c0d840"/><rect x="0" y="22" width="8.5" height="1.05" fill="#e8e040"/><rect x="0" y="21" width="8.5" height="1.05" fill="#eedc38"/>
<rect x="0" y="20" width="8.5" height="1.05" fill="#ecd030"/><rect x="0" y="19" width="8.5" height="1.05" fill="#eac828"/><rect x="0" y="18" width="8.5" height="1.05" fill="#e8bc20"/><rect x="0" y="17" width="8.5" height="1.05" fill="#e8b018"/><rect x="0" y="16" width="8.5" height="1.05" fill="#e6a810"/><rect x="0" y="15" width="8.5" height="1.05" fill="#e6a000"/><rect x="0" y="14" width="8.5" height="1.05" fill="#e29400"/><rect x="0" y="13" width="8.5" height="1.05" fill="#de8800"/><rect x="0" y="12" width="8.5" height="1.05" fill="#dc7c00"/><rect x="0" y="11" width="8.5" height="1.05" fill="#d87000"/>
<rect x="0" y="10" width="8.5" height="1.05" fill="#d66400"/><rect x="0" y="9" width="8.5" height="1.05" fill="#d06028"/><rect x="0" y="8" width="8.5" height="1.05" fill="#cc6440"/><rect x="0" y="7" width="8.5" height="1.05" fill="#c86a58"/><rect x="0" y="6" width="8.5" height="1.05" fill="#c87070"/><rect x="0" y="5" width="8.5" height="1.05" fill="#cc7090"/><rect x="0" y="4" width="8.5" height="1.05" fill="#d86080"/><rect x="0" y="3" width="8.5" height="1.05" fill="#e04868"/><rect x="0" y="2" width="8.5" height="1.05" fill="#e83050"/><rect x="0" y="1" width="8.5" height="1.05" fill="#f02030"/>
<rect x="0" y="0" width="8.5" height="1.05" fill="#ff1010"/>
</g>
<rect x="545.5" y="56.7" width="8.5" height="507.6" fill="none" stroke="#999" stroke-width="0.6"/>
<g stroke="#555" stroke-width="1">
<line x1="554" y1="559.3" x2="561" y2="559.3"/><line x1="554" y1="509.5" x2="561" y2="509.5"/><line x1="554" y1="459.8" x2="561" y2="459.8"/><line x1="554" y1="410" x2="561" y2="410"/><line x1="554" y1="360.3" x2="561" y2="360.3"/><line x1="554" y1="310.5" x2="561" y2="310.5"/><line x1="554" y1="260.7" x2="561" y2="260.7"/><line x1="554" y1="211" x2="561" y2="211"/><line x1="554" y1="161.2" x2="561" y2="161.2"/><line x1="554" y1="111.5" x2="561" y2="111.5"/><line x1="554" y1="61.7" x2="561" y2="61.7"/>
</g>
<g font-size="12">
<text x="568" y="563.6">0</text><text x="568" y="513.8">5</text><text x="568" y="464.1">10</text><text x="568" y="414.3">15</text><text x="568" y="364.6">20</text><text x="568" y="314.8">25</text><text x="568" y="265">30</text><text x="568" y="215.3">35</text><text x="568" y="165.5">40</text><text x="568" y="115.8">45</text><text x="568" y="66">50</text>
</g>

<!-- ===== RIGHT PANEL ===== -->
<text x="872" y="20" font-size="14.4" font-weight="bold" text-anchor="middle">EMBER bias: ATOTIJ_AVG on 08/14/2022</text>
<g transform="translate(600,0)">
<use xlink:href="#map" clip-path="url(#cl)"/>
<g class="st" clip-path="url(#cl)">
<circle cx="227.7" cy="40.7" r="4.6" fill="#e6e6e6"/>
<circle cx="247" cy="37.3" r="4.6" fill="#e6e6e6"/>
<circle cx="271" cy="31.7" r="4.6" fill="#e6e6e6"/>
<circle cx="376.7" cy="30" r="4.6" fill="#e6e6e6"/>
<circle cx="478" cy="30" r="4.6" fill="#e6e6e6"/>
<circle cx="214.3" cy="49.3" r="4.6" fill="#e6e6e6"/>
<circle cx="241" cy="49" r="4.6" fill="#ece8a8"/>
<circle cx="243" cy="53.3" r="4.6" fill="#e6e6e6"/>
<circle cx="245" cy="56" r="4.6" fill="#e6e6e6"/>
<circle class="k" cx="275.7" cy="66" r="4.6" fill="#e6e6e6"/>
<circle cx="241.3" cy="77.7" r="4.6" fill="#e6e6e6"/>
<circle cx="319.7" cy="78.3" r="4.6" fill="#e6e6e6"/>
<circle cx="454.3" cy="46.7" r="4.6" fill="#f0dc60"/>
<circle cx="461.7" cy="46.7" r="4.6" fill="#e6e6e6"/>
<circle cx="466" cy="46" r="4.6" fill="#ece8b0"/>
<circle cx="510.7" cy="104.7" r="4.6" fill="#e6e6e6"/>
<circle cx="219.3" cy="117.3" r="4.6" fill="#6a2a8a"/>
<circle cx="235" cy="130.3" r="4.6" fill="#0878a8"/>
<circle cx="235" cy="148" r="4.6" fill="#90d090"/>
<circle cx="269.7" cy="151.3" r="4.6" fill="#e6e6e6"/>
<circle cx="188.7" cy="170.3" r="4.6" fill="#c8e0c8"/>
<circle cx="243.3" cy="169.3" r="4.6" fill="#a8d8a8"/>
<circle cx="251.7" cy="171" r="4.6" fill="#e6e6e6"/>
<circle cx="274.7" cy="169.7" r="4.6" fill="#e6e6e6"/>
<circle cx="190.7" cy="182.7" r="4.6" fill="#30b080"/>
<circle cx="229" cy="175.7" r="4.6" fill="#90d090"/>
<circle cx="231.3" cy="192.7" r="4.6" fill="#e6e6e6"/>
<circle class="k" cx="243" cy="198.3" r="4.6" fill="#70c078"/>
<circle cx="311.3" cy="194" r="4.6" fill="#e6e6e6"/>
<circle cx="308.3" cy="198.3" r="4.6" fill="#d0e8d0"/>
<circle cx="310" cy="203.3" r="4.6" fill="#e6e6e6"/>
<circle cx="293.3" cy="202.7" r="4.6" fill="#e6e6e6"/>
<circle cx="292.7" cy="210.3" r="4.6" fill="#e6e6e6"/>
<circle cx="305" cy="214" r="4.6" fill="#f0e070"/>
<circle cx="303.3" cy="225.7" r="4.6" fill="#ece8b0"/>
<circle cx="264.3" cy="206" r="4.6" fill="#e6e6e6"/>
<circle cx="258" cy="211.7" r="4.6" fill="#e6e6e6"/>
<circle cx="249.3" cy="212.3" r="4.6" fill="#ece8c0"/>
<circle cx="252" cy="221.7" r="4.6" fill="#e6e6e6"/>
<circle cx="249.3" cy="229.7" r="4.6" fill="#e6e6e6"/>
<circle cx="240.7" cy="222.7" r="4.6" fill="#e6e6e6"/>
<circle cx="245" cy="222.7" r="4.6" fill="#e6e6e6"/>
<circle cx="194" cy="218" r="4.6" fill="#b0d8b0"/>
<circle cx="231" cy="222.7" r="4.6" fill="#e6e6e6"/>
<circle cx="199" cy="240" r="4.6" fill="#a0d4a0"/>
<circle cx="204.3" cy="242" r="4.6" fill="#a0d4a0"/>
<circle cx="209.7" cy="236.7" r="4.6" fill="#90d090"/>
<circle cx="200" cy="250" r="4.6" fill="#a8d8a8"/>
<circle cx="205.7" cy="250" r="4.6" fill="#70c078"/>
<circle cx="214.3" cy="245.7" r="4.6" fill="#c8e0c8"/>
<circle cx="217" cy="257.3" r="4.6" fill="#90d090"/>
<circle cx="220.3" cy="258.7" r="4.6" fill="#90d090"/>
<circle cx="203.3" cy="263.3" r="4.6" fill="#90d090"/>
<circle cx="231.7" cy="262" r="4.6" fill="#e6e6e6"/>
<circle cx="240.3" cy="251.7" r="4.6" fill="#c8e0c8"/>
<circle cx="263.7" cy="247.3" r="4.6" fill="#e6e6e6"/>
<circle cx="246.3" cy="268.3" r="4.6" fill="#c8e0c8"/>
<circle cx="250" cy="276.7" r="4.6" fill="#c8e0c8"/>
<circle cx="212.7" cy="273" r="4.6" fill="#90d090"/>
<circle cx="213.7" cy="274.3" r="4.6" fill="#90d090"/>
<circle cx="203" cy="283.3" r="4.6" fill="#c8e0c8"/>
<circle cx="204.3" cy="288" r="4.6" fill="#c8e0c8"/>
<circle cx="219" cy="290.3" r="4.6" fill="#c8e0c8"/>
<circle cx="224.3" cy="299.3" r="4.6" fill="#c8e0c8"/>
<circle cx="213.3" cy="303.3" r="4.6" fill="#e6e6e6"/>
<circle cx="260.7" cy="287.7" r="4.6" fill="#e6e6e6"/>
<circle cx="295.3" cy="276.3" r="4.6" fill="#f0e060"/>
<circle class="k" cx="313.7" cy="270.7" r="4.6" fill="#e6e6e6"/>
<circle cx="271" cy="306" r="4.6" fill="#e6e6e6"/>
<circle cx="284.7" cy="307.7" r="4.6" fill="#ece8b0"/>
<circle class="k" cx="332" cy="302.7" r="4.6" fill="#e6e6e6"/>
<circle class="k" cx="333.3" cy="304.3" r="4.6" fill="#e6e6e6"/>
<circle cx="207.7" cy="311" r="4.6" fill="#e6e6e6"/>
<circle cx="280" cy="315" r="4.6" fill="#e6e6e6"/>
<circle cx="277.3" cy="319.3" r="4.6" fill="#e6e6e6"/>
<circle class="k" cx="333.3" cy="312.7" r="4.6" fill="#e6e6e6"/>
<circle cx="256" cy="317.3" r="4.6" fill="#c8e0c8"/>
<circle cx="225.7" cy="328.3" r="4.6" fill="#70c078"/>
<circle cx="260.7" cy="338.3" r="4.6" fill="#c8e0c8"/>
<circle cx="278" cy="337.3" r="4.6" fill="#d0e8d0"/>
<circle cx="278.3" cy="347.3" r="4.6" fill="#c8e0c8"/>
<circle cx="289.3" cy="341.3" r="4.6" fill="#e6e6e6"/>
<circle cx="308" cy="337" r="4.6" fill="#c8e0c8"/>
<circle class="k" cx="336" cy="339" r="4.6" fill="#e6e6e6"/>
<circle cx="341.7" cy="345" r="4.6" fill="#e6e6e6"/>
<circle cx="295.3" cy="355" r="4.6" fill="#e6e6e6"/>
<circle cx="232.7" cy="363.7" r="4.6" fill="#e6e6e6"/>
<circle cx="231" cy="373.7" r="4.6" fill="#a8d8a8"/>
<circle cx="230.7" cy="384.3" r="4.6" fill="#90d090"/>
<circle class="k" cx="288.3" cy="384" r="4.6" fill="#e6e6e6"/>
<circle class="k" cx="290" cy="382.3" r="4.6" fill="#e6e6e6"/>
<circle cx="338.3" cy="383.3" r="4.6" fill="#e6e6e6"/>
<circle cx="230" cy="402.3" r="4.6" fill="#c8e0c8"/>
<circle cx="289.7" cy="408" r="4.6" fill="#e6e6e6"/>
<circle cx="316" cy="405.7" r="4.6" fill="#e6e6e6"/>
<circle cx="250.7" cy="416.7" r="4.6" fill="#a8d8a8"/>
<circle cx="256" cy="418.7" r="4.6" fill="#50b870"/>
<circle cx="272.3" cy="422.3" r="4.6" fill="#c8e0c8"/>
<circle cx="314" cy="422.3" r="4.6" fill="#e6e6e6"/>
<circle cx="273.3" cy="431.3" r="4.6" fill="#c8e0c8"/>
<circle cx="286.7" cy="427.3" r="4.6" fill="#c8e0c8"/>
<circle cx="296.7" cy="430.7" r="4.6" fill="#c8e0c8"/>
<circle cx="282.7" cy="435.7" r="4.6" fill="#c8e0c8"/>
<circle cx="290" cy="436" r="4.6" fill="#e6e6e6"/>
<circle cx="294" cy="438.7" r="4.6" fill="#a8d8a8"/>
<circle cx="300.7" cy="441" r="4.6" fill="#70c078"/>
<circle cx="304" cy="447.7" r="4.6" fill="#70c078"/>
<circle class="k" cx="341" cy="435.7" r="4.6" fill="#e6e6e6"/>
<circle cx="318.3" cy="447" r="4.6" fill="#a8d8a8"/>
<circle cx="325" cy="450.7" r="4.6" fill="#a8d8a8"/>
<circle cx="326" cy="454.3" r="4.6" fill="#a8d8a8"/>
<circle cx="329.3" cy="456" r="4.6" fill="#70c078"/>
<circle class="k" cx="331.7" cy="456.7" r="4.6" fill="#70c078"/>
<circle cx="303.3" cy="455" r="4.6" fill="#a8d8a8"/>
<circle cx="303.3" cy="460" r="4.6" fill="#e6e6e6"/>
<circle cx="312" cy="460.3" r="4.6" fill="#a8d8a8"/>
<circle cx="355.7" cy="450.3" r="4.6" fill="#e6e6e6"/>
<circle cx="352.7" cy="464.3" r="4.6" fill="#c8e0c8"/>
<circle cx="332.3" cy="472" r="4.6" fill="#c8e0c8"/>
<circle cx="340.7" cy="478.3" r="4.6" fill="#a8d8a8"/>
<circle cx="338.3" cy="482.7" r="4.6" fill="#c8e0c8"/>
<circle cx="338" cy="487.3" r="4.6" fill="#e6e6e6"/>
<circle class="k" cx="374.3" cy="479.3" r="4.6" fill="#70c078"/>
<circle cx="377.7" cy="495" r="4.6" fill="#70c078"/>
<circle cx="325.3" cy="491.3" r="4.6" fill="#90d090"/>
<circle class="k" cx="329.3" cy="515.3" r="4.6" fill="#50b870"/>
<circle cx="337.7" cy="513.7" r="4.6" fill="#70c078"/>
<circle cx="345" cy="512.7" r="4.6" fill="#a8d8a8"/>
<circle cx="336.7" cy="523.3" r="4.6" fill="#50b870"/>
<circle cx="358.3" cy="524.3" r="4.6" fill="#a8d8a8"/>
<circle cx="391" cy="516.7" r="4.6" fill="#90d090"/>
<circle cx="389" cy="525" r="4.6" fill="#30a870"/>
<circle cx="390" cy="531.7" r="4.6" fill="#30a870"/>
<circle cx="391.3" cy="532.7" r="4.6" fill="#30a870"/>
<circle cx="423" cy="536.7" r="4.6" fill="#c8e0c8"/>
<circle cx="507.3" cy="348.3" r="4.6" fill="#c8e0c8"/>
<circle cx="478" cy="359.3" r="4.6" fill="#c8e0c8"/>
<circle class="k" cx="431.7" cy="377.5" r="4.6" fill="#e6e6e6"/>
<circle class="k" cx="428.3" cy="382" r="4.6" fill="#e6e6e6"/>
<circle class="k" cx="435" cy="382" r="4.6" fill="#e6e6e6"/>
<circle class="k" cx="428.3" cy="386" r="4.6" fill="#e6e6e6"/>
<circle class="k" cx="435" cy="386" r="4.6" fill="#e6e6e6"/>
<circle cx="431.7" cy="382.5" r="4" fill="#b0d8b0"/>
<circle cx="423.3" cy="395" r="4.6" fill="#c8e0c8"/>
<circle cx="443" cy="390.7" r="4.6" fill="#c8e0c8"/>
</g>
<use xlink:href="#aqs"/>
<rect x="29.5" y="29.5" width="483.5" height="562.5" fill="none" stroke="#000" stroke-width="1"/>
<g stroke="#000" stroke-width="1">
<line x1="46" y1="592" x2="46" y2="599"/><line x1="121.7" y1="592" x2="121.7" y2="599"/><line x1="197.3" y1="592" x2="197.3" y2="599"/><line x1="273" y1="592" x2="273" y2="599"/><line x1="348.6" y1="592" x2="348.6" y2="599"/><line x1="424.3" y1="592" x2="424.3" y2="599"/><line x1="500" y1="592" x2="500" y2="599"/>
<line x1="21" y1="42.7" x2="29" y2="42.7"/><line x1="21" y1="131.7" x2="29" y2="131.7"/><line x1="21" y1="220.7" x2="29" y2="220.7"/><line x1="21" y1="309.7" x2="29" y2="309.7"/><line x1="21" y1="398.7" x2="29" y2="398.7"/><line x1="21" y1="487.7" x2="29" y2="487.7"/><line x1="21" y1="576.7" x2="29" y2="576.7"/>
</g>
<g font-size="12" text-anchor="middle">
<text x="46" y="619.5">-124</text><text x="121.7" y="619.5">-122</text><text x="197.3" y="619.5">-120</text><text x="273" y="619.5">-118</text><text x="348.6" y="619.5">-116</text><text x="424.3" y="619.5">-114</text><text x="500" y="619.5">-112</text>
<text transform="translate(19.5,42.7) rotate(-90)">45</text><text transform="translate(19.5,131.7) rotate(-90)">43</text><text transform="translate(19.5,220.7) rotate(-90)">41</text><text transform="translate(19.5,309.7) rotate(-90)">39</text><text transform="translate(19.5,398.7) rotate(-90)">37</text><text transform="translate(19.5,487.7) rotate(-90)">35</text><text transform="translate(19.5,576.7) rotate(-90)">33</text>
<text x="272" y="640">Bias Summary: [ min, 25th %, 50th %, 75th %, max ]</text>
<text x="272" y="655" xml:space="preserve" style="white-space:pre">[ -200,   -3.8,   -1.9,   -0.25,   100 ]</text>
<text x="549" y="53">ug/m3</text>
</g>
</g>

<g transform="translate(1145,57) scale(1,10.347)">
<rect x="0" y="0" width="8.3" height="1.05" fill="#9e2a2a"/><rect x="0" y="1" width="8.3" height="1.05" fill="#a82c2c"/><rect x="0" y="2" width="8.3" height="1.05" fill="#b82424"/><rect x="0" y="3" width="8.3" height="1.05" fill="#cc1a1a"/><rect x="0" y="4" width="8.3" height="1.05" fill="#f00a0a"/><rect x="0" y="5" width="8.3" height="1.05" fill="#ff1a1a"/><rect x="0" y="6" width="8.3" height="1.05" fill="#ee2846"/><rect x="0" y="7" width="8.3" height="1.05" fill="#e05070"/><rect x="0" y="8" width="8.3" height="1.05" fill="#d070a0"/><rect x="0" y="9" width="8.3" height="1.05" fill="#d07888"/>
<rect x="0" y="10" width="8.3" height="1.05" fill="#d07060"/><rect x="0" y="11" width="8.3" height="1.05" fill="#d86438"/><rect x="0" y="12" width="8.3" height="1.05" fill="#d85a00"/><rect x="0" y="13" width="8.3" height="1.05" fill="#e06c00"/><rect x="0" y="14" width="8.3" height="1.05" fill="#e07c00"/><rect x="0" y="15" width="8.3" height="1.05" fill="#e48c00"/><rect x="0" y="16" width="8.3" height="1.05" fill="#e8a000"/><rect x="0" y="17" width="8.3" height="1.05" fill="#ecb418"/><rect x="0" y="18" width="8.3" height="1.05" fill="#eec830"/><rect x="0" y="19" width="8.3" height="1.05" fill="#f0d840"/>
<rect x="0" y="20" width="8.3" height="1.05" fill="#f0e460"/><rect x="0" y="21" width="8.3" height="1.05" fill="#ece890"/><rect x="0" y="22" width="8.3" height="1.05" fill="#e8e4b8"/><rect x="0" y="23" width="8.3" height="2.05" fill="#e6e6e6"/><rect x="0" y="25" width="8.3" height="1.05" fill="#d0e4d0"/><rect x="0" y="26" width="8.3" height="1.05" fill="#b0dcb0"/><rect x="0" y="27" width="8.3" height="1.05" fill="#90d090"/><rect x="0" y="28" width="8.3" height="1.05" fill="#70c878"/><rect x="0" y="29" width="8.3" height="1.05" fill="#50bc70"/>
<rect x="0" y="30" width="8.3" height="1.05" fill="#20a870"/><rect x="0" y="31" width="8.3" height="1.05" fill="#00a070"/><rect x="0" y="32" width="8.3" height="1.05" fill="#009080"/><rect x="0" y="33" width="8.3" height="1.05" fill="#008890"/><rect x="0" y="34" width="8.3" height="1.05" fill="#0078b0"/><rect x="0" y="35" width="8.3" height="1.05" fill="#0068c8"/><rect x="0" y="36" width="8.3" height="1.05" fill="#0058d8"/><rect x="0" y="37" width="8.3" height="1.05" fill="#0040f0"/><rect x="0" y="38" width="8.3" height="1.05" fill="#1830f0"/><rect x="0" y="39" width="8.3" height="1.05" fill="#4020f0"/>
<rect x="0" y="40" width="8.3" height="1.05" fill="#7020f0"/><rect x="0" y="41" width="8.3" height="1.05" fill="#8a20e8"/><rect x="0" y="42" width="8.3" height="1.05" fill="#9020d8"/><rect x="0" y="43" width="8.3" height="1.05" fill="#8a20c0"/><rect x="0" y="44" width="8.3" height="1.05" fill="#802098"/><rect x="0" y="45" width="8.3" height="1.05" fill="#702888"/><rect x="0" y="46" width="8.3" height="1.05" fill="#603080"/><rect x="0" y="47" width="8.3" height="1" fill="#583080"/><rect x="0" y="48" width="8.3" height="1" fill="#583080"/>
</g>
<rect x="1145" y="57" width="8.3" height="507" fill="none" stroke="#999" stroke-width="0.6"/>
<g stroke="#555" stroke-width="1">
<line x1="1153" y1="62" x2="1160" y2="62"/><line x1="1153" y1="103.4" x2="1160" y2="103.4"/><line x1="1153" y1="206.8" x2="1160" y2="206.8"/><line x1="1153" y1="310.2" x2="1160" y2="310.2"/><line x1="1153" y1="413.6" x2="1160" y2="413.6"/><line x1="1153" y1="517" x2="1160" y2="517"/><line x1="1153" y1="559" x2="1160" y2="559"/>
</g>
<g font-size="12">
<text x="1167" y="66.3">10000</text><text x="1167" y="107.7">40</text><text x="1167" y="211.1">20</text><text x="1167" y="314.5">0</text><text x="1167" y="417.9">-20</text><text x="1167" y="521.3">-40</text><text x="1167" y="563.3">-450</text>
</g>
</svg>
</body></html>
